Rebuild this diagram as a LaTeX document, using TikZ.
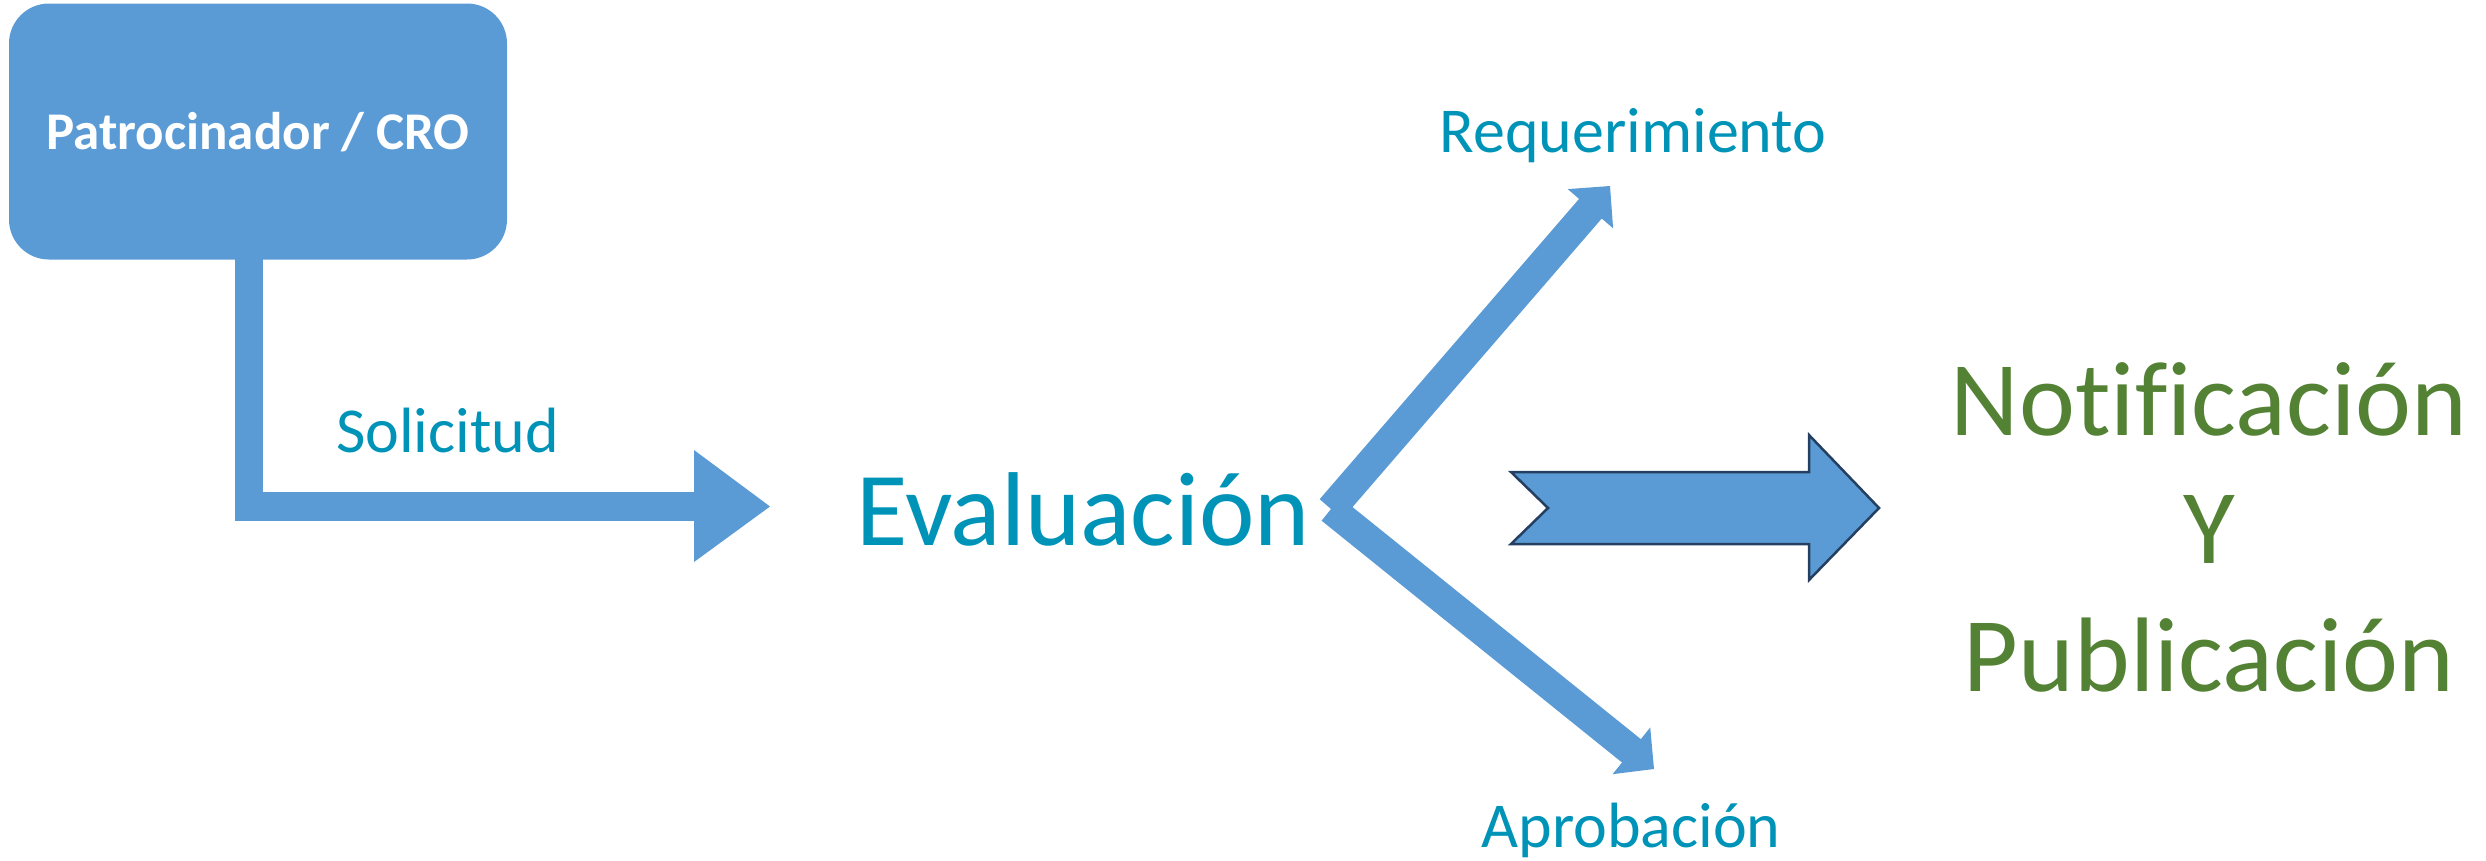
\documentclass[tikz,border=0pt]{standalone}
\usepackage{fontspec}
\setmainfont{Carlito}[Ligatures=NoCommon]
\usetikzlibrary{calc}
\definecolor{boxblue}{HTML}{5B9BD5}
\definecolor{tealtxt}{HTML}{0093B8}
\definecolor{greentxt}{HTML}{548235}
\definecolor{navyline}{HTML}{243F60}
\newcommand\fatarrow[4]{%
  \coordinate (fa-base) at ($(#2)!#3!(#1)$);
  \coordinate (fa-stem) at ($(#2)!#3-1pt!(#1)$);
  \draw[stem, line width=30pt] (#1) -- (fa-stem);
  \fill[boxblue] (#2) -- ($(fa-base)!#4!90:(#2)$) -- ($(fa-base)!#4!-90:(#2)$) -- cycle;
}
\begin{document}
\begin{tikzpicture}[x=1pt,y=-1pt,
  stem/.style={draw=boxblue, line cap=butt, line join=miter},
  lbl/.style={inner sep=0pt, text=tealtxt},
  glbl/.style={inner sep=0pt, text=greentxt, anchor=base, font=\fontsize{106}{127}\selectfont},
]
\useasboundingbox (0,0) rectangle (2486,860);

% box
\node[fill=boxblue, rounded corners=40pt, minimum width=498pt, minimum height=256pt,
      inner sep=0pt, text=white, text height=35pt, text depth=0pt,
      font=\bfseries\fontsize{53}{64}\selectfont] (box) at (258,131.5) {Patrocinador / CRO};

% labels
\node[lbl, anchor=base west, font=\fontsize{64}{76}\selectfont] (sol) at (336,452) {Solicitud};
\node[lbl, anchor=base west, font=\fontsize{105}{126}\selectfont] (eval) at (856,545) {Evaluación};
\node[lbl, anchor=base, font=\fontsize{64}{76}\selectfont] (req) at (1633,152) {Requerimiento};
\node[lbl, anchor=base, font=\fontsize{64}{76}\selectfont] (apr) at (1631,847) {Aprobación};
\node[glbl] (notif) at (2209,435) {Notificación};
\node[glbl] (ytxt) at (2209,563) {Y};
\node[glbl] (pub) at (2209,691) {Publicación};

% L arrow from box to Evaluacion
\coordinate (lbase) at (694,506.5);
\coordinate (ltip) at (770,506.5);
\draw[stem, line width=28.5pt] ($(box.south)+(-9,-4)$) |- ($(lbase)+(1,0)$);
\fill[boxblue] (ltip) -- (lbase |- 0,450) -- (lbase |- 0,562) -- cycle;

% fork arrows
\coordinate (fork) at (1331,509);
\coordinate (reqtip) at (1610,186);
\coordinate (aprtip) at (1654,769);
\fatarrow{fork}{reqtip}{30pt}{30pt}
\fatarrow{fork}{aprtip}{29pt}{30pt}

% big notched arrow
\draw[fill=boxblue, draw=navyline, line width=2.5pt, line join=miter]
  (1511,472) -- (1809,472) -- (1809,435) -- (1879,508) -- (1809,580)
  -- (1809,544) -- (1511,544) -- (1548,508) -- cycle;
\end{tikzpicture}
\end{document}
